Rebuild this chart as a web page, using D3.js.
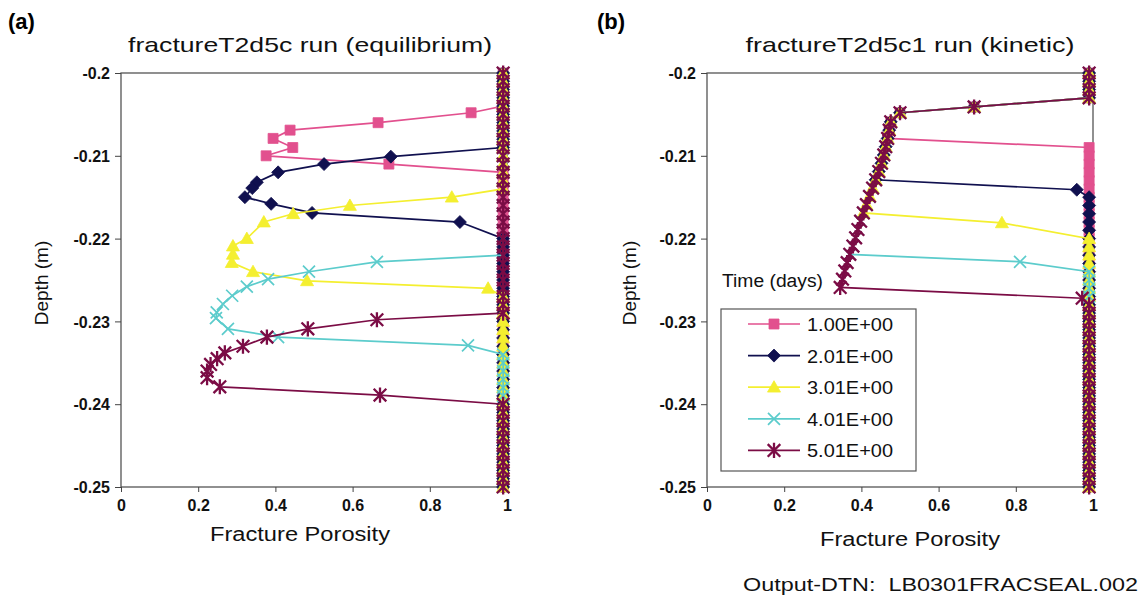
<!DOCTYPE html>
<html>
<head>
<meta charset="utf-8">
<script src="https://cdn.jsdelivr.net/npm/d3@7"></script>
<style>
  body { margin: 0; background: #fff; }
  svg { font-family: "Liberation Sans", Arial, sans-serif; }
  .tickLabel { font-weight: bold; font-size: 16px; fill: #111; }
</style>
</head>
<body>
<div id="chart"></div>
<script>
// ##################################
// Fracture porosity profiles (a) + (b)
// ##################################

// Legend / series names
const timeLabels = ["1.00E+00", "2.01E+00", "3.01E+00", "4.01E+00", "5.01E+00"];
const seriesColors = ["#e2508e", "#10104f", "#f4ef30", "#5ccccc", "#7b0c45"];
const seriesShapes = ["square", "diamond", "triangle", "cross", "star"];

// Axis ticks
const xTicks = [0, 0.2, 0.4, 0.6, 0.8, 1];
const xTickLabels = ["0", "0.2", "0.4", "0.6", "0.8", "1"];
const yTicks = [-0.2, -0.21, -0.22, -0.23, -0.24, -0.25];
const yTickLabels = ["-0.2", "-0.21", "-0.22", "-0.23", "-0.24", "-0.25"];

// Grid cells sitting at the sealed porosity (the dense band at the right)
const bandPorosity = 0.99;
const gridDepth = [
  -0.200, -0.201, -0.202, -0.203, -0.204, -0.205, -0.206, -0.207, -0.208, -0.209,
  -0.210, -0.211, -0.212, -0.213, -0.214, -0.215, -0.216, -0.217, -0.218, -0.219,
  -0.220, -0.221, -0.222, -0.223, -0.224, -0.225, -0.226, -0.227, -0.228, -0.229,
  -0.230, -0.231, -0.232, -0.233, -0.234, -0.235, -0.236, -0.237, -0.238, -0.239,
  -0.240, -0.241, -0.242, -0.243, -0.244, -0.245, -0.246, -0.247, -0.248, -0.249,
  -0.250
];

// Panel (a): equilibrium run, [porosity, depth]
const bandTopA    = [-0.204, -0.209, -0.214, -0.222, -0.229];
const bandBottomA = [-0.212, -0.220, -0.227, -0.234, -0.240];
const profileA1 = [[0.907, -0.2048], [0.666, -0.2060], [0.438, -0.2069], [0.394, -0.2079],
                   [0.445, -0.2090], [0.376, -0.2100], [0.694, -0.2110]];
const profileA2 = [[0.699, -0.2101], [0.526, -0.2110], [0.407, -0.2120], [0.352, -0.2132],
                   [0.340, -0.2139], [0.321, -0.2150], [0.389, -0.2158], [0.495, -0.2169],
                   [0.878, -0.2180]];
const profileA3 = [[0.857, -0.2150], [0.593, -0.2160], [0.446, -0.2170], [0.370, -0.2180],
                   [0.326, -0.2200], [0.290, -0.2209], [0.290, -0.2219], [0.287, -0.2229],
                   [0.342, -0.2240], [0.482, -0.2251], [0.951, -0.2260]];
const profileA4 = [[0.663, -0.2228], [0.487, -0.2240], [0.381, -0.2249], [0.326, -0.2258],
                   [0.288, -0.2269], [0.264, -0.2279], [0.248, -0.2289], [0.246, -0.2296],
                   [0.277, -0.2309], [0.407, -0.2319], [0.899, -0.2329]];
const profileA5 = [[0.663, -0.2298], [0.484, -0.2309], [0.378, -0.2319], [0.316, -0.2330],
                   [0.269, -0.2338], [0.249, -0.2345], [0.232, -0.2352], [0.223, -0.2360],
                   [0.223, -0.2368], [0.256, -0.2379], [0.671, -0.2389]];

// Panel (b): kinetic run, all times share the upper front
const bandTopB    = [-0.203, -0.203, -0.203, -0.203, -0.203];
const bandBottomB = [-0.209, -0.215, -0.220, -0.224, -0.228];
const frontB      = [-0.2079, -0.2129, -0.2169, -0.2219, -0.2259];
const upperB = [[0.692, -0.2041], [0.500, -0.2048],
  [0.476, -0.2059], [0.472, -0.2069], [0.468, -0.2079], [0.463, -0.2089], [0.458, -0.2099],
  [0.452, -0.2109], [0.445, -0.2119], [0.437, -0.2129], [0.429, -0.2139], [0.421, -0.2149],
  [0.413, -0.2159], [0.405, -0.2169], [0.398, -0.2179], [0.391, -0.2189], [0.385, -0.2199],
  [0.378, -0.2209], [0.370, -0.2219], [0.363, -0.2229], [0.357, -0.2239], [0.351, -0.2249],
  [0.345, -0.2259]];
const tailB = [[], [[0.958, -0.2141]], [[0.764, -0.2181]], [[0.811, -0.2228]], [[0.972, -0.2272]]];


// Join band cells + profile into one depth-ordered series
function buildSeries(top, profile, bottom) {
    let pts = [];
    gridDepth.filter(d => d >= top - 1e-9).forEach(d => pts.push([bandPorosity, d]));
    profile.forEach(p => pts.push(p));
    gridDepth.filter(d => d <= bottom + 1e-9).forEach(d => pts.push([bandPorosity, d]));
    return pts;
}

const profilesA = [profileA1, profileA2, profileA3, profileA4, profileA5];
const seriesA = profilesA.map((p, i) => buildSeries(bandTopA[i], p, bandBottomA[i]));
const seriesB = frontB.map((f, i) => buildSeries(
    bandTopB[i],
    upperB.filter(p => p[1] >= f - 1e-9).concat(tailB[i]),
    bandBottomB[i]));


// Marker shapes
function markerPath(shape, s) {
    if (shape == "square") return `M${-s},${-s}H${s}V${s}H${-s}Z`;
    if (shape == "diamond") return `M0,${-s}L${s},0L0,${s}L${-s},0Z`;
    if (shape == "triangle") return `M0,${-s}L${s},${s * 0.75}L${-s},${s * 0.75}Z`;
    if (shape == "cross") return `M${-s},${-s}L${s},${s}M${s},${-s}L${-s},${s}`;
    return `M${-s},${-s}L${s},${s}M${s},${-s}L${-s},${s}M0,${-s * 1.2}V${s * 1.2}`;
}
const markerSize = { square: 5, diamond: 6.5, triangle: 6.5, cross: 6, star: 6.3 };

function drawMarker(g, shape, color) {
    const filled = shape == "square" || shape == "diamond" || shape == "triangle";
    g.append("path")
        .attr("d", markerPath(shape, markerSize[shape]))
        .attr("fill", filled ? color : "none")
        .attr("stroke", color)
        .attr("stroke-width", filled ? 0.8 : (shape == "star" ? 2.3 : 1.7));
}


// Store values for svg creation
const w = 1142;
const h = 598;
const plot_w = 386;
const plot_top = 73;
const plot_bottom = 487;

const svg = d3.select("#chart")
              .append("svg")
              .attr("width", w)
              .attr("height", h);

const panels = [
    { letter: "(a)", letterX: 8, left: 121, title: "fractureT2d5c run (equilibrium)",
      titleX: 310, titleLen: 364, depthX: 48, xTitleX: 300, xTitleY: 541, series: seriesA },
    { letter: "(b)", letterX: 597, left: 707, title: "fractureT2d5c1 run (kinetic)",
      titleX: 910, titleLen: 329, depthX: 636, xTitleX: 910, xTitleY: 546, series: seriesB, legend: true }
];

panels.forEach(drawPanel);

function drawPanel(pn) {
    const xScale = d3.scaleLinear().domain([0, 1]).range([pn.left, pn.left + plot_w]);
    const yScale = d3.scaleLinear().domain([-0.2, -0.25]).range([plot_top, plot_bottom]);

    // panel letter + title
    svg.append("text")
        .attr("x", pn.letterX).attr("y", 29)
        .attr("font-weight", "bold").attr("font-size", 22)
        .text(pn.letter);
    svg.append("text")
        .attr("x", pn.titleX - pn.titleLen / 2).attr("y", 52)
        .attr("font-size", 21).attr("fill", "#111")
        .attr("textLength", pn.titleLen).attr("lengthAdjust", "spacingAndGlyphs")
        .text(pn.title);

    // plot frame
    svg.append("rect")
        .attr("x", pn.left).attr("y", plot_top)
        .attr("width", plot_w).attr("height", plot_bottom - plot_top)
        .attr("fill", "none").attr("stroke", "#555").attr("stroke-width", 1.3);

    // Add x axis
    const xAxis = d3.axisBottom(xScale)
                    .tickValues(xTicks)
                    .tickSize(5)
                    .tickFormat((d, i) => xTickLabels[i]);
    const gx = svg.append("g")
        .attr("transform", "translate(0," + plot_bottom + ")")
        .call(xAxis);
    gx.select(".domain").remove();
    gx.selectAll("line").attr("stroke", "#444");
    gx.selectAll("text").attr("class", "tickLabel").attr("y", 24).attr("dy", null);

    // Add y axis
    const yAxis = d3.axisLeft(yScale)
                    .tickValues(yTicks)
                    .tickSize(6)
                    .tickFormat((d, i) => yTickLabels[i]);
    const gy = svg.append("g")
        .attr("transform", "translate(" + pn.left + ",0)")
        .call(yAxis);
    gy.select(".domain").remove();
    gy.selectAll("line").attr("stroke", "#444");
    gy.selectAll("text").attr("class", "tickLabel").attr("x", -11).attr("dy", "0.35em");

    // axis titles
    svg.append("text")
        .attr("x", pn.xTitleX - 90).attr("y", pn.xTitleY)
        .attr("font-size", 20).attr("fill", "#111")
        .attr("textLength", 180).attr("lengthAdjust", "spacingAndGlyphs")
        .text("Fracture Porosity");
    svg.append("text")
        .attr("transform", "translate(" + pn.depthX + "," + 283 + ") rotate(-90)")
        .attr("text-anchor", "middle")
        .attr("font-size", 19).attr("fill", "#111")
        .text("Depth (m)");

    // Plot lines + markers, series by series
    const line = d3.line()
        .x(d => xScale(d[0]))
        .y(d => yScale(d[1]));

    pn.series.forEach((pts, i) => {
        const g = svg.append("g");
        g.append("path")
            .attr("d", line(pts))
            .attr("fill", "none")
            .attr("stroke", seriesColors[i])
            .attr("stroke-width", 1.7);
        g.selectAll("g.mk")
            .data(pts)
            .join("g")
            .attr("class", "mk")
            .attr("transform", d => "translate(" + xScale(d[0]) + "," + yScale(d[1]) + ")")
            .each(function() { drawMarker(d3.select(this), seriesShapes[i], seriesColors[i]); });
    });

    if (pn.legend) drawLegend();
}

function drawLegend() {
    svg.append("text")
        .attr("x", 722).attr("y", 287)
        .attr("font-size", 18).attr("fill", "#111")
        .attr("textLength", 101).attr("lengthAdjust", "spacingAndGlyphs")
        .text("Time (days)");

    svg.append("rect")
        .attr("x", 721).attr("y", 309)
        .attr("width", 195).attr("height", 162)
        .attr("fill", "#fff").attr("stroke", "#555").attr("stroke-width", 1.2);

    timeLabels.forEach((lab, i) => {
        const yy = 324 + i * 31.6;
        const g = svg.append("g");
        g.append("line")
            .attr("x1", 748).attr("x2", 800).attr("y1", yy).attr("y2", yy)
            .attr("stroke", seriesColors[i]).attr("stroke-width", 1.7);
        drawMarker(g.append("g").attr("transform", "translate(774," + yy + ")"),
                   seriesShapes[i], seriesColors[i]);
        g.append("text")
            .attr("x", 807).attr("y", yy + 7)
            .attr("font-size", 19).attr("fill", "#111")
            .attr("textLength", 86).attr("lengthAdjust", "spacingAndGlyphs")
            .text(lab);
    });
}

// data set id at the bottom
svg.append("text")
    .attr("x", 743).attr("y", 591)
    .attr("font-size", 19).attr("fill", "#111")
    .attr("textLength", 395).attr("lengthAdjust", "spacingAndGlyphs")
    .style("white-space", "pre")
    .text("Output-DTN:  LB0301FRACSEAL.002");
</script>
</body>
</html>
